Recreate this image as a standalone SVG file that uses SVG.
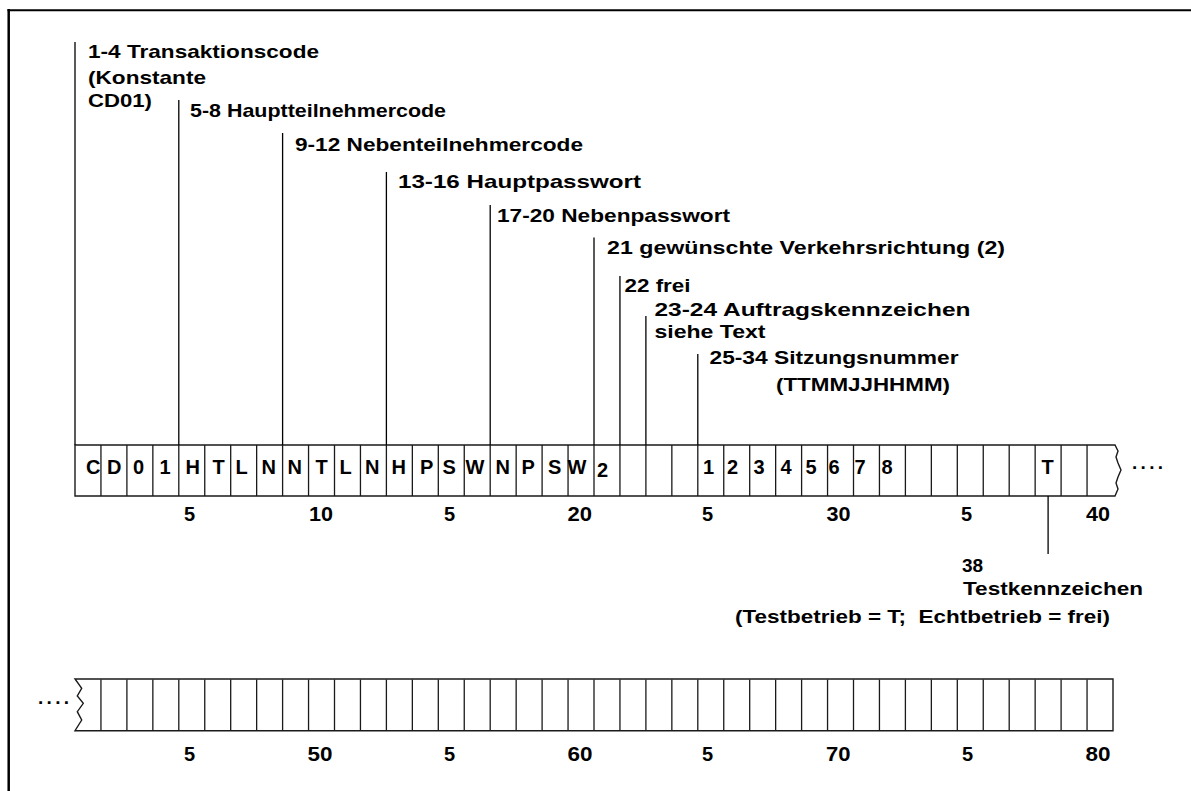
<svg xmlns="http://www.w3.org/2000/svg" xmlns:xlink="http://www.w3.org/1999/xlink" width="1191" height="791" viewBox="0 0 1191 791">
<style>
.t{font-family:"Liberation Sans",Arial,sans-serif;font-weight:bold;font-size:19px;fill:#000}
.c{font-family:"Liberation Sans",Arial,sans-serif;font-weight:bold;font-size:20px;fill:#000}
.n{font-family:"Liberation Sans",Arial,sans-serif;font-weight:bold;font-size:20px;fill:#000}
.box{fill:none;stroke:#1a1a1a;stroke-width:1.4;stroke-linejoin:miter}
.div{fill:none;stroke:#1a1a1a;stroke-width:1.3}
.conn{stroke:#000;stroke-width:1.3;fill:none}
.frame{stroke:#000;fill:none}
</style>
<defs>
<path id="dividers" class="div" d="M100.95 0v51M126.9 0v51M152.85 0v51M178.8 0v51M204.75 0v51M230.7 0v51M256.65 0v51M282.6 0v51M308.55 0v51M334.5 0v51M360.45 0v51M386.4 0v51M412.35 0v51M438.3 0v51M464.25 0v51M490.2 0v51M516.15 0v51M542.1 0v51M568.05 0v51M594 0v51M619.95 0v51M645.9 0v51M671.85 0v51M697.8 0v51M723.75 0v51M749.7 0v51M775.65 0v51M801.6 0v51M827.55 0v51M853.5 0v51M879.45 0v51M905.4 0v51M931.35 0v51M957.3 0v51M983.25 0v51M1009.2 0v51M1035.15 0v51M1061.1 0v51M1087.05 0v51"/>
</defs>
<rect width="1191" height="791" fill="#fff"/>
<g id="frame">
<path class="frame" stroke-width="2" d="M7.5 10.3H1191"/>
<path class="frame" stroke-width="2.5" d="M8.7 9V791"/>
</g>

<g id="row1">
<path class="box" d="M1115 445H75V496H1115L1118 489L1116 483L1118 477L1121 470L1118 463L1116 457L1118 451Z"/>
<use xlink:href="#dividers" transform="translate(0,445)"/>
<g class="c">
<text x="86" y="474">C</text>
<text x="107" y="474">D</text>
<text x="133" y="474">0</text>
<text x="159.5" y="474">1</text>
<text x="185.5" y="474">H</text>
<text x="212.5" y="474">T</text>
<text x="235.5" y="474">L</text>
<text x="261.5" y="474">N</text>
<text x="287.5" y="474">N</text>
<text x="315.5" y="474">T</text>
<text x="339.5" y="474">L</text>
<text x="365" y="474">N</text>
<text x="391.5" y="474">H</text>
<text x="420" y="474">P</text>
<text x="442.5" y="474">S</text>
<text x="465.5" y="474">W</text>
<text x="495.5" y="474">N</text>
<text x="521.5" y="474">P</text>
<text x="548" y="474">S</text>
<text x="567.5" y="474">W</text>
<text x="597" y="476.5">2</text>
<text x="703" y="474">1</text>
<text x="727" y="474">2</text>
<text x="753.5" y="474">3</text>
<text x="780.5" y="474">4</text>
<text x="805.5" y="474">5</text>
<text x="828.5" y="474">6</text>
<text x="854.5" y="474">7</text>
<text x="881.5" y="474">8</text>
<text x="1041.5" y="474">T</text>
</g>
<text class="t" x="1132" y="469" textLength="31" lengthAdjust="spacing">....</text>
<g class="n">
<text x="184" y="521">5</text>
<text x="309" y="521" textLength="24" lengthAdjust="spacingAndGlyphs">10</text>
<text x="444" y="521">5</text>
<text x="567.5" y="521" textLength="24.5" lengthAdjust="spacingAndGlyphs">20</text>
<text x="702" y="521">5</text>
<text x="826.5" y="521" textLength="24" lengthAdjust="spacingAndGlyphs">30</text>
<text x="961" y="521">5</text>
<text x="1086" y="521" textLength="24" lengthAdjust="spacingAndGlyphs">40</text>
</g>
</g>

<g id="row2">
<path class="box" d="M75 679H1113V730.7H75L81.7 720L77.3 711.7L83.3 703.3L77.3 696L81.7 688.3Z"/>
<use xlink:href="#dividers" transform="translate(0,679.5)"/>
<text class="t" x="38" y="704" textLength="31" lengthAdjust="spacing">....</text>
<g class="n">
<text x="184" y="760.7">5</text>
<text x="307.5" y="760.7" textLength="25" lengthAdjust="spacingAndGlyphs">50</text>
<text x="444" y="760.7">5</text>
<text x="567.5" y="760.7" textLength="25" lengthAdjust="spacingAndGlyphs">60</text>
<text x="702" y="760.7">5</text>
<text x="826" y="760.7" textLength="24.5" lengthAdjust="spacingAndGlyphs">70</text>
<text x="962" y="760.7">5</text>
<text x="1085.5" y="760.7" textLength="25" lengthAdjust="spacingAndGlyphs">80</text>
</g>
</g>

<g id="connectors">
<path class="conn" d="M75 42V445"/>
<path class="conn" d="M178.8 100V445"/>
<path class="conn" d="M282.6 133V445"/>
<path class="conn" d="M386.4 172V445"/>
<path class="conn" d="M490.2 205V445"/>
<path class="conn" d="M594 237.5V445"/>
<path class="conn" d="M619.95 276V445"/>
<path class="conn" d="M645.9 316V445"/>
<path class="conn" d="M697.8 354V445"/>
<path class="conn" d="M1048.1 496V554"/>
</g>

<g id="label-1-4" class="t">
<text x="88" y="58" textLength="231" lengthAdjust="spacingAndGlyphs">1-4 Transaktionscode</text>
<text x="88" y="83.5" textLength="118" lengthAdjust="spacingAndGlyphs">(Konstante</text>
<text x="88" y="107" textLength="64" lengthAdjust="spacingAndGlyphs">CD01)</text>
</g>
<g id="label-5-8" class="t">
<text x="190" y="117" textLength="256" lengthAdjust="spacingAndGlyphs">5-8 Hauptteilnehmercode</text>
</g>
<g id="label-9-12" class="t">
<text x="295" y="150.5" textLength="288" lengthAdjust="spacingAndGlyphs">9-12 Nebenteilnehmercode</text>
</g>
<g id="label-13-16" class="t">
<text x="398" y="188" textLength="243" lengthAdjust="spacingAndGlyphs">13-16 Hauptpasswort</text>
</g>
<g id="label-17-20" class="t">
<text x="497" y="221.5" textLength="233" lengthAdjust="spacingAndGlyphs">17-20 Nebenpasswort</text>
</g>
<g id="label-21" class="t">
<text x="607" y="253.5" textLength="398" lengthAdjust="spacingAndGlyphs">21 gewünschte Verkehrsrichtung (2)</text>
</g>
<g id="label-22" class="t">
<text x="624.5" y="292" textLength="66" lengthAdjust="spacingAndGlyphs">22 frei</text>
</g>
<g id="label-23-24" class="t">
<text x="654.5" y="316" textLength="316" lengthAdjust="spacingAndGlyphs">23-24 Auftragskennzeichen</text>
<text x="654.5" y="337.5" textLength="111" lengthAdjust="spacingAndGlyphs">siehe Text</text>
</g>
<g id="label-25-34" class="t">
<text x="709.5" y="364" textLength="249" lengthAdjust="spacingAndGlyphs">25-34 Sitzungsnummer</text>
<text x="776" y="391" textLength="174" lengthAdjust="spacingAndGlyphs">(TTMMJJHHMM)</text>
</g>
<g id="label-38" class="t">
<text x="962" y="571.5">38</text>
<text x="963" y="595" textLength="180" lengthAdjust="spacingAndGlyphs">Testkennzeichen</text>
<text x="735" y="623" textLength="375" lengthAdjust="spacingAndGlyphs" xml:space="preserve">(Testbetrieb = T;  Echtbetrieb = frei)</text>
</g>
</svg>
